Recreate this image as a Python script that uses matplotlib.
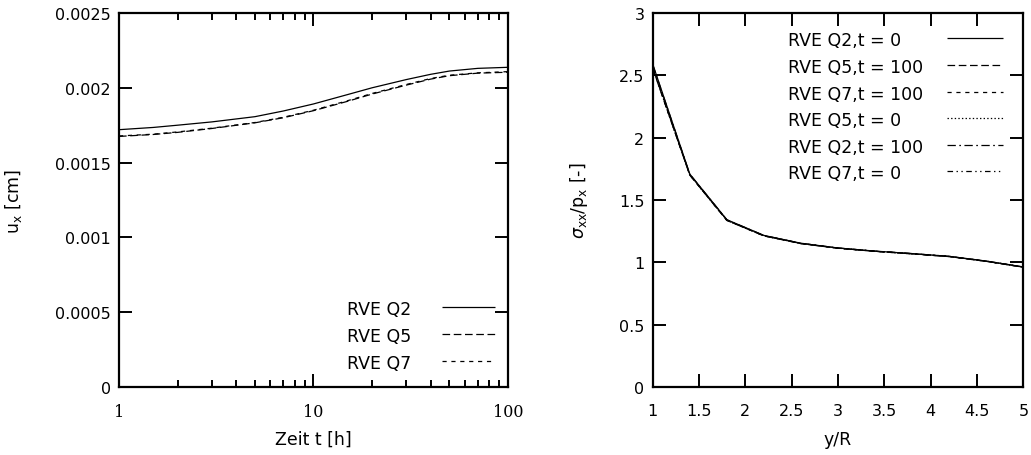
import matplotlib
matplotlib.use("Agg")
import matplotlib.pyplot as plt
from matplotlib.ticker import LogLocator, NullFormatter, FixedLocator

plt.rcParams["font.family"] = ["DejaVu Sans"]
plt.rcParams["mathtext.fontset"] = "dejavusans"
plt.rcParams["lines.scale_dashes"] = False

# --- displacement over time -------------------------------------------------
time_h = [1, 1.5, 2, 3, 5, 7, 10, 15, 20, 30, 40, 50, 70, 100]
ux_q2 = [0.001720, 0.001735, 0.001750, 0.001772, 0.001807, 0.001845, 0.001892,
         0.001955, 0.002000, 0.002055, 0.002090, 0.002112, 0.002130, 0.002137]
ux_q5 = [0.001675, 0.001688, 0.001702, 0.001728, 0.001766, 0.001800, 0.001847,
         0.001910, 0.001958, 0.002018, 0.002058, 0.002081, 0.002098, 0.002104]
ux_q7 = [0.001678, 0.001690, 0.001705, 0.001730, 0.001768, 0.001803, 0.001850,
         0.001914, 0.001962, 0.002022, 0.002062, 0.002084, 0.002100, 0.002108]
left_labels = ["RVE Q2", "RVE Q5", "RVE Q7"]
time_ticks = [1, 10, 100]
time_tick_labels = ["1", "10", "100"]
ux_ticks = [0, 0.0005, 0.001, 0.0015, 0.002, 0.0025]
ux_tick_labels = ["0", "0.0005", "0.001", "0.0015", "0.002", "0.0025"]

# --- stress profile along y/R ------------------------------------------------
y_over_r = [1.0, 1.4, 1.8, 2.2, 2.6, 3.0, 3.4, 3.8, 4.2, 4.6, 5.0]
s_q2_t0 = [2.590, 1.708, 1.342, 1.216, 1.153, 1.115, 1.090, 1.070, 1.048, 1.010, 0.963]
s_q5_t100 = [2.555, 1.700, 1.336, 1.212, 1.150, 1.113, 1.088, 1.068, 1.046, 1.008, 0.961]
s_q7_t100 = [2.560, 1.701, 1.337, 1.213, 1.151, 1.113, 1.088, 1.068, 1.046, 1.008, 0.961]
s_q5_t0 = [2.558, 1.702, 1.338, 1.213, 1.151, 1.114, 1.089, 1.069, 1.047, 1.009, 0.962]
s_q2_t100 = [2.585, 1.707, 1.341, 1.215, 1.153, 1.115, 1.090, 1.070, 1.048, 1.010, 0.963]
s_q7_t0 = [2.562, 1.702, 1.338, 1.213, 1.151, 1.114, 1.089, 1.069, 1.047, 1.009, 0.962]
right_labels = ["RVE Q2,t = 0", "RVE Q5,t = 100", "RVE Q7,t = 100",
                "RVE Q5,t = 0", "RVE Q2,t = 100", "RVE Q7,t = 0"]
yr_ticks = [1, 1.5, 2, 2.5, 3, 3.5, 4, 4.5, 5]
yr_tick_labels = ["1", "1.5", "2", "2.5", "3", "3.5", "4", "4.5", "5"]
sig_ticks = [0, 0.5, 1, 1.5, 2, 2.5, 3]
sig_tick_labels = ["0", "0.5", "1", "1.5", "2", "2.5", "3"]

# line styles (dash patterns in points)
SOLID = (0, ())
DASH = (0, (5.5, 2.6))
SHORTDASH = (0, (3.0, 3.4))
DOT = (0, (1.0, 1.6))
DASHDOT = (0, (6.0, 2.5, 1.2, 2.5))
DASHDOTDOT = (0, (4.0, 2.5, 1.0, 2.5, 1.0, 2.5))

LW = 0.9
FS = 11.5

fig = plt.figure(figsize=(10.31, 4.56), dpi=100)
ax1 = fig.add_axes([0.1154, 0.1491, 0.3773, 0.8202])
ax2 = fig.add_axes([0.6331, 0.1491, 0.3595, 0.8202])


def style_axes(ax):
    for s in ax.spines.values():
        s.set_linewidth(1.6)
    ax.tick_params(which="both", direction="in", top=True, right=True,
                   labelsize=FS, width=1.4)
    ax.tick_params(which="major", length=9.5)
    ax.tick_params(which="minor", length=5)
    ax.tick_params(axis="y", pad=6)
    ax.tick_params(axis="x", pad=11.5)


def legend_rows(ax, labels, styles, x_text, x_l0, x_l1, ys):
    for lab, ls, yy in zip(labels, styles, ys):
        ax.text(x_text, yy, lab, transform=ax.transAxes, fontsize=FS + 1,
                ha="left", va="center_baseline")
        ax.plot([x_l0, x_l1], [yy, yy], transform=ax.transAxes, color="black",
                lw=LW, linestyle=ls, clip_on=False)


# left panel
left_styles = [SOLID, DASH, SHORTDASH]
for vals, ls in zip([ux_q2, ux_q5, ux_q7], left_styles):
    ax1.plot(time_h, vals, color="black", lw=LW, linestyle=ls)
ax1.set_xscale("log")
ax1.set_xlim(1, 100)
ax1.set_ylim(0, 0.0025)
style_axes(ax1)
ax1.xaxis.set_major_locator(FixedLocator(time_ticks))
ax1.set_xticklabels(time_tick_labels, fontfamily="DejaVu Serif", fontsize=FS)
ax1.xaxis.set_minor_locator(LogLocator(base=10, subs=range(2, 10)))
ax1.xaxis.set_minor_formatter(NullFormatter())
ax1.set_yticks(ux_ticks)
ax1.set_yticklabels(ux_tick_labels)
ax1.set_xlabel("Zeit t [h]", fontsize=FS + 1)
ax1.set_ylabel(r"u$_\mathsf{x}$ [cm]", fontsize=FS + 1)
ax1.xaxis.set_label_coords(0.5, -0.115)
ax1.yaxis.set_label_coords(-0.245, 0.5)
legend_rows(ax1, left_labels, left_styles, 0.585, 0.83, 0.967,
            [0.213, 0.1417, 0.0704])

# right panel
right_series = [s_q2_t0, s_q5_t100, s_q7_t100, s_q5_t0, s_q2_t100, s_q7_t0]
right_styles = [SOLID, DASH, SHORTDASH, DOT, DASHDOT, DASHDOTDOT]
for vals, ls in zip(right_series, right_styles):
    ax2.plot(y_over_r, vals, color="black", lw=LW, linestyle=ls)
ax2.set_xlim(1, 5)
ax2.set_ylim(0, 3)
style_axes(ax2)
ax2.set_xticks(yr_ticks)
ax2.set_xticklabels(yr_tick_labels)
ax2.set_yticks(sig_ticks)
ax2.set_yticklabels(sig_tick_labels)
ax2.set_xlabel("y/R", fontsize=FS + 1)
ax2.set_ylabel(r"$\sigma_\mathsf{xx}/\mathsf{p}_\mathsf{x}$ [-]", fontsize=FS + 1)
ax2.xaxis.set_label_coords(0.5, -0.115)
ax2.yaxis.set_label_coords(-0.17, 0.5)
legend_rows(ax2, right_labels, right_styles, 0.364, 0.793, 0.944,
            [0.9324, 0.861, 0.79, 0.7186, 0.6476, 0.5765])

fig.savefig("out.png", dpi=100)
